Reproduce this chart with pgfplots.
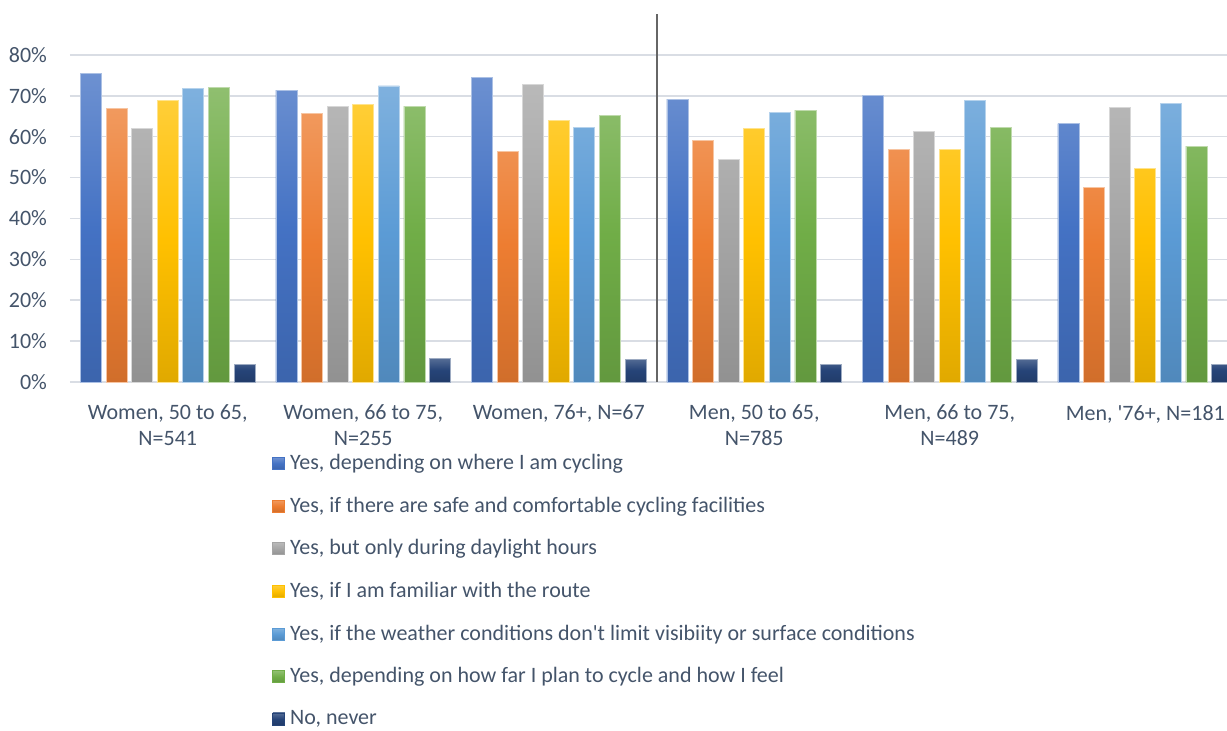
\documentclass[border=0pt]{standalone}
\usepackage{pgfplots}
\usepackage{pgfplotstable}
\pgfplotsset{compat=1.18}
\usepackage{fontspec}
\setmainfont{Carlito}

\definecolor{txt}{HTML}{44546A}
\definecolor{gridc}{HTML}{D9DDE4}
\definecolor{cA}{HTML}{4472C4}
\definecolor{cB}{HTML}{ED7D31}
\definecolor{cC}{HTML}{A5A5A5}
\definecolor{cD}{HTML}{FFC000}
\definecolor{cE}{HTML}{5B9BD5}
\definecolor{cF}{HTML}{70AD47}
\definecolor{cG}{HTML}{264478}

% share answering yes/no, per group (percent)
\pgfplotstableread{
x  where facil daylight route weather far never
0  75.5  66.9  62.0     68.9  71.8    72.1  4.2
1  71.4  65.6  67.5     67.8  72.4    67.5  5.8
2  74.4  56.3  72.7     63.9  62.2    65.2  5.5
3  69.2  59.0  54.4     62.0  65.9    66.5  4.2
4  70.0  56.8  61.2     56.8  68.8    62.2  5.5
5  63.2  47.6  67.2     52.2  68.1    57.7  4.2
}\datatable

\pgfplotsset{
  barcol/.style={fill=#1, top color=#1!78!white, bottom color=#1!88!black,
    middle color=#1, draw=#1!45!white, line width=0.4pt,
    legend image code/.code={\fill[#1] (0pt,-3pt) rectangle (6pt,3pt);}},
}

\begin{document}
\begin{tikzpicture}
\path[use as bounding box] (-35pt,-174pt) rectangle (578.5pt,191pt);
\begin{axis}[
    scale only axis,
    width=578.5pt, height=184pt,
    xmin=-0.5, xmax=5.418,
    ymin=0, ymax=90,
    ybar=2.3pt, bar width=10.5pt,
    axis line style={draw=none},
    major tick length=0pt,
    ytick={0,10,...,80},
    yticklabels={0\%,10\%,20\%,30\%,40\%,50\%,60\%,70\%,80\%},
    ymajorgrids=true,
    grid style={gridc, line width=0.75pt},
    xtick={0,...,5},
    xticklabels={{Women, 50 to 65,\\N=541},{Women, 66 to 75,\\N=255},{Women, 76+, N=67},
      {Men, 50 to 65,\\N=785},{Men, 66 to 75,\\N=489},{Men, \textquotesingle76+, N=181}},
    xticklabel style={align=center, font=\fontsize{11}{13}\selectfont, text=txt, yshift=-8pt},
    yticklabel style={font=\fontsize{11}{13}\selectfont, text=txt, xshift=-8pt},
    extra x ticks={2.5},
    extra x tick labels={},
    extra x tick style={xmajorgrids=true, major grid style={black!60, line width=1pt}},
    legend cell align=left,
    legend style={at={(0.1746,-0.19)}, anchor=north west, draw=none, fill=none,
      font=\fontsize{11}{13}\selectfont, text=txt, inner sep=0pt,
      row sep=10.2pt, nodes={inner sep=1pt, inner xsep=2.5pt}},
    legend columns=1,
]
\addplot[barcol=cA] table[x=x, y=where]{\datatable};
\addplot[barcol=cB] table[x=x, y=facil]{\datatable};
\addplot[barcol=cC] table[x=x, y=daylight]{\datatable};
\addplot[barcol=cD] table[x=x, y=route]{\datatable};
\addplot[barcol=cE] table[x=x, y=weather]{\datatable};
\addplot[barcol=cF] table[x=x, y=far]{\datatable};
\addplot[barcol=cG] table[x=x, y=never]{\datatable};
\legend{{Yes, depending on where I am cycling},
  {Yes, if there are safe and comfortable cycling facilities},
  {Yes, but only during daylight hours},
  {Yes, if I am familiar with the route},
  {Yes, if the weather conditions don\textquotesingle t limit visibiity or surface conditions},
  {Yes, depending on how far I plan to cycle and how I feel},
  {No, never}}
\end{axis}
\end{tikzpicture}
\end{document}
